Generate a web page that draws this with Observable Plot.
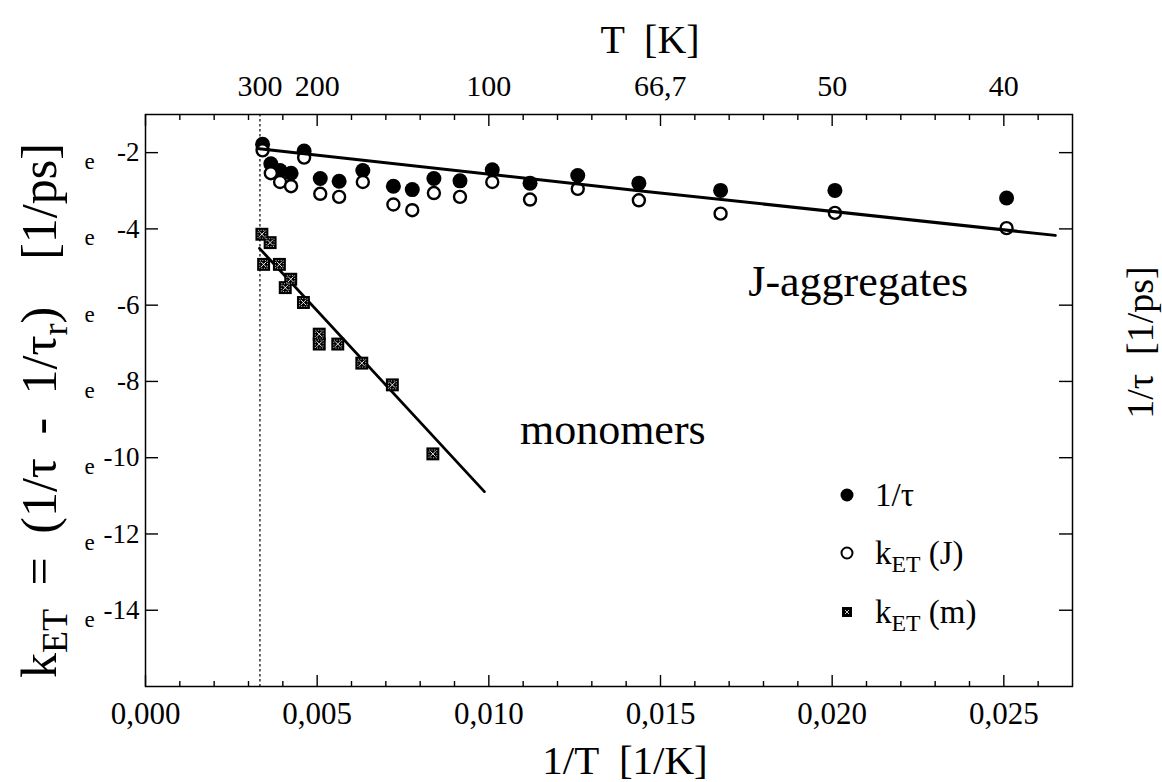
<!DOCTYPE html>
<html>
<head>
<meta charset="utf-8">
<script src="https://cdn.jsdelivr.net/npm/d3@7"></script>
<script src="https://cdn.jsdelivr.net/npm/@observablehq/plot@0.6"></script>
<style>
  html, body { margin: 0; padding: 0; background: #fff; }
</style>
</head>
<body>
<div id="chart"></div>
<script>
// J-aggregates: inverse temperature 1/T [1/K]
const invT = [0.00341, 0.00365, 0.00392, 0.00424, 0.00462, 0.00509, 0.00564, 0.00633, 0.00722, 0.00777,
              0.00840, 0.00916, 0.01010, 0.01120, 0.01259, 0.01437, 0.01675, 0.02008, 0.02508];
// ln(1/tau) [1/ps]
const lnRate = [-1.78, -2.29, -2.47, -2.54, -1.96, -2.68, -2.75, -2.47, -2.88, -2.97,
                -2.68, -2.74, -2.45, -2.80, -2.60, -2.80, -2.99, -2.99, -3.19];
// ln(k_ET) for the J-aggregates
const lnKetJ = [-1.94, -2.54, -2.77, -2.88, -2.13, -3.08, -3.16, -2.77, -3.36, -3.51,
                -3.06, -3.16, -2.77, -3.23, -2.95, -3.25, -3.60, -3.58, -3.98];

// monomers
const invTMono = [0.00339, 0.00363, 0.00344, 0.00390, 0.00423, 0.00407, 0.00460, 0.00506, 0.00506,
                  0.00560, 0.00630, 0.00719, 0.00837];
const lnKetMono = [-4.14, -4.36, -4.93, -4.93, -5.32, -5.54, -5.93, -6.76, -7.02,
                   -7.02, -7.52, -8.09, -9.90];

// fitted curves
const fitJX = [0.00331, 0.0143, 0.0265];
const fitJY = [-1.90, -2.99, -4.17];
const fitMonoX = [0.00332, 0.00987];
const fitMonoY = [-4.51, -10.89];

// room temperature marker [K]
const roomTemp = [300];

// axes
const xMajorTicks = [0, 0.005, 0.010, 0.015, 0.020, 0.025];
const xMinorTicks = [0.001, 0.002, 0.003, 0.004, 0.006, 0.007, 0.008, 0.009, 0.011, 0.012, 0.013, 0.014,
                     0.016, 0.017, 0.018, 0.019, 0.021, 0.022, 0.023, 0.024, 0.026];
const yTicks = [-2, -4, -6, -8, -10, -12, -14];
const tempValues = [300, 200, 100, 66.7, 50, 40];
const tempLabels = ["300", "200", "100", "66,7", "50", "40"];

// annotations
const annoText = ["J-aggregates", "monomers"];
const annoX = [0.02076, 0.01361];
const annoY = [-5.38, -9.26];

const titleTop = "T  [K]";
const titleBottom = "1/T  [1/K]";
const titleLeft = "kET = (1/τ - 1/τr)  [1/ps]";
const titleRight = "1/τ  [1/ps]";
const legendLabels = ["1/τ", "kET (J)", "kET (m)"];

const ratePts = invT.map((x, i) => ({x, y: lnRate[i]}));
const ketJPts = invT.map((x, i) => ({x, y: lnKetJ[i]}));
const monoPts = invTMono.map((x, i) => ({x, y: lnKetMono[i]}));
const fitJ = fitJX.map((x, i) => ({x, y: fitJY[i]}));
const fitMono = fitMonoX.map((x, i) => ({x, y: fitMonoY[i]}));
const annos = annoText.map((t, i) => ({t, x: annoX[i], y: annoY[i]}));

const W = 1162, H = 782;
const mL = 145, mR = 90, mT = 114, mB = 96;
const innerW = W - mL - mR, innerH = H - mT - mB;
const serif = "Liberation Serif";

const chart = Plot.plot({
  width: W,
  height: H,
  marginLeft: mL,
  marginRight: mR,
  marginTop: mT,
  marginBottom: mB,
  style: {background: "#fff", color: "#000", fontFamily: serif},
  x: {domain: [0, 0.027]},
  y: {domain: [-16, -1]},
  marks: [
    // tick labels
    Plot.axisX(xMajorTicks, {anchor: "bottom", tickSize: 0, tickPadding: 15, label: null,
      tickFormat: d => d.toFixed(3).replace(".", ","), fontSize: 31}),
    Plot.axisX(tempValues.map(t => 1 / t), {anchor: "top", tickSize: 0, tickPadding: 19, label: null,
      tickFormat: d => tempLabels[tempValues.findIndex(t => Math.abs(1 / t - d) < 1e-9)], fontSize: 30}),
    Plot.axisY(yTicks, {anchor: "left", tickSize: 0, tickPadding: 6, label: null,
      tickFormat: d => String(d), fontSize: 27}),
    Plot.text(yTicks, {y: d => d, text: () => "e", frameAnchor: "left", textAnchor: "middle",
      dx: -56, dy: 9, fontSize: 23}),
    // inward ticks
    Plot.tickX(xMinorTicks, {x: d => d, insetTop: innerH - 5, strokeWidth: 1.4}),
    Plot.tickX(xMajorTicks, {x: d => d, insetTop: innerH - 11, strokeWidth: 1.4}),
    Plot.tickX(xMinorTicks, {x: d => d, insetBottom: innerH - 6, strokeWidth: 1.4}),
    Plot.tickX(xMajorTicks, {x: d => d, insetBottom: innerH - 12, strokeWidth: 1.4}),
    Plot.tickY(yTicks, {y: d => d, insetRight: innerW - 13, strokeWidth: 1.4}),
    Plot.tickY(yTicks, {y: d => d, insetLeft: innerW - 13, strokeWidth: 1.4}),
    // room-temperature reference
    Plot.ruleX(roomTemp, {x: t => 1 / t, strokeDasharray: "2.5,2.5", strokeWidth: 1.2}),
    // J-aggregates
    Plot.dot(ratePts, {x: "x", y: "y", r: 7.5, fill: "#000"}),
    Plot.dot(ketJPts, {x: "x", y: "y", r: 6, fill: "#fff", stroke: "#000", strokeWidth: 2.4}),
    Plot.line(fitJ, {x: "x", y: "y", curve: "natural", strokeWidth: 3}),
    // monomers
    Plot.line(fitMono, {x: "x", y: "y", strokeWidth: 2.8}),
    Plot.dot(monoPts, {x: "x", y: "y", symbol: "square", r: 7.3, fill: "#000"}),
    Plot.dot(monoPts, {x: "x", y: "y", symbol: "square", r: 4.4, fill: "none", stroke: "#fff", strokeWidth: 0.8, strokeDasharray: "1,1.6"}),
    Plot.dot(monoPts, {x: "x", y: "y", symbol: "times", r: 2.6, stroke: "#fff", strokeWidth: 0.9}),
    // annotations
    Plot.text(annos, {x: "x", y: "y", text: "t", fontSize: 44}),
    // axis titles
    Plot.text([titleTop], {frameAnchor: "top", lineAnchor: "middle", dx: 41, dy: -74, fontSize: 40}),
    Plot.text([titleBottom], {frameAnchor: "bottom", lineAnchor: "middle", dx: 16, dy: 74, fontSize: 41}),
    Plot.text([titleLeft], {frameAnchor: "left", textAnchor: "middle", lineAnchor: "middle",
      dx: -106, dy: 10, rotate: -90, fontSize: 50}),
    Plot.text([titleRight], {frameAnchor: "right", textAnchor: "middle", lineAnchor: "middle",
      dx: 68, dy: -58, rotate: -90, fontSize: 38}),
    Plot.frame({strokeWidth: 1.5})
  ]
});

document.getElementById("chart").appendChild(chart);
const root = d3.select(chart);
root.attr("font-family", serif);

// write text as runs; subscript runs are drawn smaller and lowered
function richText(el, runs) {
  const t = d3.select(el);
  t.text(null);
  let lowered = false;
  runs.forEach(([s, sub]) => {
    const ts = t.append("tspan").text(s);
    if (sub) {
      ts.attr("font-size", "72%");
      if (!lowered) { ts.attr("dy", "0.32em"); lowered = true; }
    } else if (lowered) {
      ts.attr("dy", "-0.23em");
      lowered = false;
    }
  });
}

root.selectAll("text").each(function () {
  if (this.textContent === titleLeft) {
    richText(this, [["k"], ["ET", true], [" = (1/τ - 1/τ"], ["r", true], [")  [1/ps]"]]);
    d3.select(this).style("word-spacing", "11px");
  }
});

// legend
const lg = root.append("g").attr("font-size", 33).attr("font-family", serif).attr("text-anchor", "start");
const lgX = 847, lgY = [495, 553, 612];
lg.append("circle").attr("cx", lgX).attr("cy", lgY[0]).attr("r", 6.5).attr("fill", "#000");
lg.append("circle").attr("cx", lgX).attr("cy", lgY[1]).attr("r", 5.5).attr("fill", "#fff").attr("stroke", "#000").attr("stroke-width", 2);
lg.append("rect").attr("x", lgX - 5).attr("y", lgY[2] - 5).attr("width", 10).attr("height", 10).attr("fill", "#000");
lg.append("path").attr("d", `M${lgX - 2},${lgY[2] - 2}L${lgX + 2},${lgY[2] + 2}M${lgX + 2},${lgY[2] - 2}L${lgX - 2},${lgY[2] + 2}`)
  .attr("stroke", "#fff").attr("stroke-width", 0.8);
legendLabels.forEach((s, i) => {
  const t = lg.append("text").attr("x", 875).attr("y", lgY[i] + 11).text(s);
  if (s.startsWith("kET")) richText(t.node(), [["k"], ["ET", true], [s.slice(3)]]);
});
</script>
</body>
</html>
